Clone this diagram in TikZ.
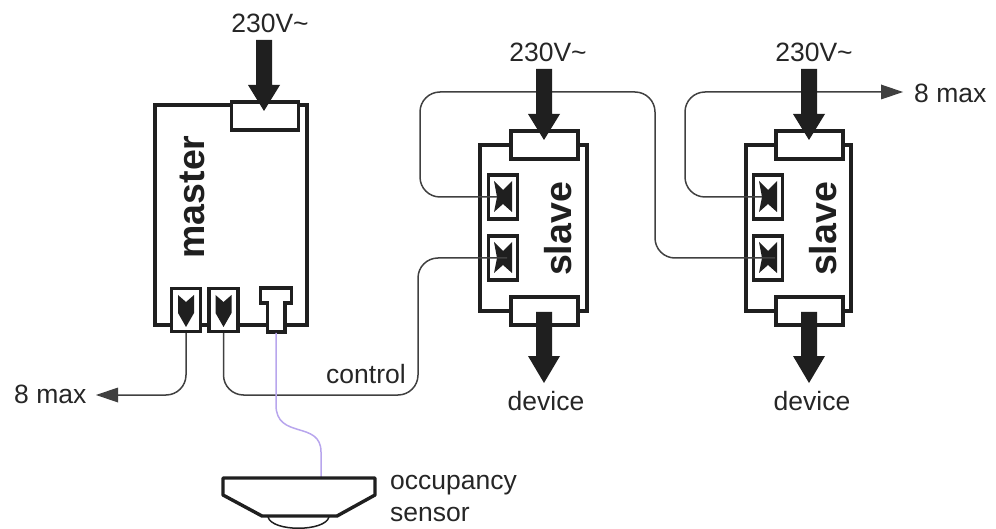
\documentclass[tikz,border=0pt]{standalone}
\usepackage{fontspec}
\setmainfont{Liberation Sans}
\begin{document}
\begin{tikzpicture}[x=1pt,y=-1pt,
  casing/.style={draw=black!88, line width=3.4pt, fill=white},
  bigarrow/.style={fill=black!88},
  wire/.style={draw=black!75, line width=1.5pt, rounded corners=20pt},
  sensorwire/.style={draw=violet!40!blue!35!white, line width=1.5pt},
  wirehead/.style={fill=black!75},
  lbl/.style={inner sep=0pt, font=\fontsize{26.5}{26.5}\selectfont, text=black!85},
  bodylbl/.style={inner sep=0pt, rotate=90, font=\fontsize{37.5}{37.5}\selectfont\bfseries, text=black!88}]

\useasboundingbox (0,0) rectangle (996,529);

% master
\draw [casing] (155,105) rectangle (307,325);
\node [casing, minimum width=67pt, minimum height=28pt, inner sep=0pt] (mpower) at (265,116) {};
\node [casing, minimum width=29pt, minimum height=43pt, inner sep=0pt] (mout) at (186,310) {};
\node [casing, minimum width=29pt, minimum height=43pt, inner sep=0pt] (mctl) at (223.5,310) {};
\draw [casing] (260.5,288) -- (291.5,288) -- (291.5,303) -- (285,303) -- (285,332) -- (267.5,332) -- (267.5,303) -- (260.5,303) -- cycle;
\coordinate (mocc) at (276,333);
\node [bodylbl] (mlabel) at (192,197) {master};

% device arrows, master sockets
\fill [bigarrow] (256,40) -- (272,40) -- (272,85) -- (280,85) -- (264,111) -- (248,85) -- (256,85) -- cycle;
\fill [bigarrow] (178,295) -- (186,302) -- (194,295) -- (194,313) -- (186,327) -- (178,313) -- cycle;
\fill [bigarrow] (215.5,295) -- (223.5,302) -- (231.5,295) -- (231.5,313) -- (223.5,327) -- (215.5,313) -- cycle;

% slave 1
\draw [casing] (480,145) rectangle (587,311);
\node [casing, minimum width=67pt, minimum height=28pt, inner sep=0pt] (apower) at (544.5,145) {};
\node [casing, minimum width=67pt, minimum height=28pt, inner sep=0pt] (adev) at (544.5,311) {};
\node [casing, minimum width=29pt, minimum height=44pt, inner sep=0pt] (ain1) at (503,197) {};
\node [casing, minimum width=29pt, minimum height=44pt, inner sep=0pt] (ain2) at (503,258) {};
\node [bodylbl] (alabel) at (558,229) {slave};

% slave 2
\draw [casing] (746,145) rectangle (851,311);
\node [casing, minimum width=67pt, minimum height=28pt, inner sep=0pt] (bpower) at (809.5,145) {};
\node [casing, minimum width=67pt, minimum height=28pt, inner sep=0pt] (bdev) at (809.5,311) {};
\node [casing, minimum width=29pt, minimum height=44pt, inner sep=0pt] (bin1) at (768,197) {};
\node [casing, minimum width=29pt, minimum height=44pt, inner sep=0pt] (bin2) at (768,258) {};
\node [bodylbl] (blabel) at (823,229) {slave};

% socket marks
\foreach \x/\y in {503/197,503/258,768/197,768/258}
  \fill [bigarrow] (\x-9,\y-16) -- (\x,\y-7) -- (\x+9,\y-16) -- (\x+9,\y+15) -- (\x,\y+7) -- (\x-9,\y+15) -- (\x-6,\y) -- cycle;

% wires
\draw [wire] (mout.south) -- (186,395) -- (118,395);
\fill [wirehead] (118,387.5) -- (118,402.5) -- (96,395) -- cycle;
\coordinate (aend1) at (497,197);
\coordinate (aend2) at (507,258);
\coordinate (bend1) at (762,197);
\coordinate (bend2) at (775,258);
\coordinate (bout) at (885,92);
\draw [wire] (mctl.south) -- (223.5,395) -- (418,395) -- (418,258) -- (aend2);
\draw [wire] (aend1) -- (420,197) -- (420,92) -- (655,92) -- (655,258) -- (bend2);
\draw [wire] (bend1) -- (685,197) -- (685,92) -- (bout);
\fill [wirehead] (881,84.5) -- (881,99.5) -- (903,92) -- cycle;

% power and device arrows
\foreach \x in {544,809}{
  \fill [bigarrow] (\x-8,69) -- (\x+8,69) -- (\x+8,114) -- (\x+16,114) -- (\x,140) -- (\x-16,114) -- (\x-8,114) -- cycle;
  \fill [bigarrow] (\x-8,312) -- (\x+8,312) -- (\x+8,356) -- (\x+16,356) -- (\x,383) -- (\x-16,356) -- (\x-8,356) -- cycle;
}

% sensor
\draw [sensorwire] (mocc) -- (276,405) .. controls (276,440) and (321,420) .. (321,452) -- (321,477);
\draw [draw=black!88, line width=1.5pt] (268,517) .. controls (272,532) and (325,532) .. (329,517);
\draw [casing, line join=round] (223,478) -- (375,478) -- (375,495) -- (337,516) -- (262,516) -- (223,495) -- cycle;

% labels
\node [lbl] (pw1) at (270,23) {230V\textasciitilde};
\node [lbl] (pw2) at (548,52) {230V\textasciitilde};
\node [lbl] (pw3) at (814,52) {230V\textasciitilde};
\node [lbl, anchor=west] (max1) at (14,394) {8 max};
\node [lbl, anchor=west] (max2) at (914,93) {8 max};
\node [lbl, anchor=west] (ctl) at (326,374) {control};
\node [lbl] (dev1) at (546,401) {device};
\node [lbl] (dev2) at (812,401) {device};
\node [lbl, anchor=west] (occ1) at (390,485) {occupancy};
\node [lbl, anchor=west] (occ2) at (390,514) {sensor};
\end{tikzpicture}
\end{document}
